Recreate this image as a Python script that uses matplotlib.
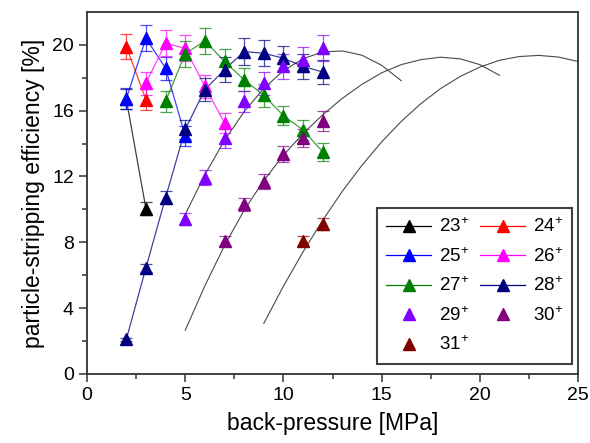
import matplotlib
matplotlib.use('Agg')
import matplotlib.pyplot as plt

plt.rcParams['font.family'] = ['Liberation Sans', 'DejaVu Sans']
plt.rcParams['mathtext.default'] = 'regular'

# measured points: back-pressure [MPa] and efficiency [%] with errors
x23 = [2, 3]
y23 = [16.69, 10.04]
e23 = [0.6, 0.4]

x24 = [2, 3]
y24 = [19.9, 16.67]
e24 = [0.75, 0.65]

x25 = [2, 3, 4, 5]
y25 = [16.73, 20.4, 18.58, 14.46]
e25 = [0.65, 0.8, 0.7, 0.6]

x26 = [3, 4, 5, 6, 7]
y26 = [17.68, 20.1, 19.79, 17.48, 15.26]
e26 = [0.7, 0.8, 0.8, 0.7, 0.6]

x27 = [4, 5, 6, 7, 8, 9, 10, 11, 12]
y27 = [16.57, 19.46, 20.24, 18.99, 17.88, 16.93, 15.7, 14.82, 13.5]
e27 = [0.65, 0.8, 0.8, 0.75, 0.7, 0.7, 0.6, 0.6, 0.55]

x28 = [2, 3, 4, 5, 6, 7, 8, 9, 10, 11, 12]
y28 = [2.1, 6.45, 10.72, 14.86, 17.28, 18.49, 19.59, 19.49, 19.19, 18.69, 18.35]
e28 = [0.1, 0.25, 0.4, 0.6, 0.7, 0.75, 0.8, 0.8, 0.75, 0.75, 0.75]

x29 = [5, 6, 7, 8, 9, 10, 11, 12]
y29 = [9.42, 11.93, 14.31, 16.57, 17.68, 18.69, 19.09, 19.79]
e29 = [0.35, 0.45, 0.55, 0.65, 0.7, 0.75, 0.75, 0.8]

x30 = [7, 8, 9, 10, 11, 12]
y30 = [8.06, 10.32, 11.69, 13.35, 14.35, 15.36]
e30 = [0.3, 0.4, 0.45, 0.5, 0.55, 0.6]

x31 = [11, 12]
y31 = [8.06, 9.11]
e31 = [0.3, 0.35]

# fitted curves
fx29 = [5, 6, 7, 8, 9, 10, 11, 12, 13, 14, 15, 16]
fy29 = [9.69, 12.11, 14.19, 15.94, 17.35, 18.43, 19.16, 19.57, 19.63, 19.37, 18.76, 17.82]

fx30 = [5, 6, 7, 8, 9, 10, 11, 12, 13, 14, 15, 16, 17, 18, 19, 20, 21]
fy30 = [2.65, 5.35, 7.8, 9.95, 11.75, 13.3, 14.6, 15.75, 16.75, 17.6, 18.3, 18.8,
        19.1, 19.25, 19.15, 18.8, 18.15]

fx31 = [9, 10, 11, 12, 13, 14, 15, 16, 17, 18, 19, 20, 21, 22, 23, 24, 25]
fy31 = [3.07, 5.33, 7.42, 9.34, 11.1, 12.68, 14.1, 15.35, 16.43, 17.34, 18.08,
        18.65, 19.06, 19.29, 19.36, 19.26, 18.99]

series = [
    ('23', x23, y23, e23, 'black', True),
    ('24', x24, y24, e24, '#ff0000', True),
    ('25', x25, y25, e25, '#0000ff', True),
    ('26', x26, y26, e26, '#ff00ff', True),
    ('27', x27, y27, e27, '#008000', True),
    ('28', x28, y28, e28, '#000080', True),
    ('29', x29, y29, e29, '#8000ff', False),
    ('30', x30, y30, e30, '#800080', False),
    ('31', x31, y31, e31, '#800000', False),
]

fig = plt.figure(figsize=(5.9, 4.43), dpi=100)
ax = fig.add_axes([0.1475, 0.156, 0.8322, 0.817])

# fit curves
for fx, fy in [(fx29, fy29), (fx30, fy30), (fx31, fy31)]:
    ax.plot(fx, fy, color='#4a4a4a', lw=0.8, zorder=2)

handles = {}
for name, xs, ys, es, col, joined in series:
    ax.errorbar(xs, ys, yerr=es, fmt='none', ecolor=col, elinewidth=0.9,
                capsize=4.5, capthick=0.9, alpha=0.7, zorder=3)
    if joined:
        ax.plot(xs, ys, color=col, lw=0.9, alpha=0.75, zorder=3)
    ax.plot(xs, ys, linestyle='none', marker='^', ms=9, color=col,
            markeredgecolor=col, zorder=4)
    # legend handle: line + marker or marker only
    h, = ax.plot([], [], linestyle='-' if joined else 'none', lw=0.9,
                 marker='^', ms=9, color=col)
    handles[name] = (h, name + '$^{+}$')

order = ['23', '25', '27', '29', '31', '24', '26', '28', '30']
leg = ax.legend([handles[k][0] for k in order], [handles[k][1] for k in order],
                ncol=2, loc='lower right', bbox_to_anchor=(0.988, 0.028),
                borderaxespad=0, fontsize=13.5, fancybox=False, framealpha=1,
                edgecolor='#404040', handlelength=2.4, handletextpad=0.4,
                columnspacing=0.6, labelspacing=0.58, borderpad=0.5)
leg.get_frame().set_linewidth(1.5)

ax.set_xlim(0, 25)
ax.set_ylim(0, 22)
ax.set_xticks([0, 5, 10, 15, 20, 25])
ax.set_xticks([2.5, 7.5, 12.5, 17.5, 22.5], minor=True)
ax.set_yticks([0, 4, 8, 12, 16, 20])
ax.set_yticks([2, 6, 10, 14, 18], minor=True)
ax.tick_params(which='major', direction='out', length=6, width=1.1,
               labelsize=14, color='#333333')
ax.tick_params(which='minor', direction='out', length=3.5, width=1.1,
               color='#333333')
for sp in ax.spines.values():
    sp.set_linewidth(1.3)
    sp.set_color('#333333')

ax.set_xlabel('back-pressure [MPa]', fontsize=16.5, labelpad=6)
ax.set_ylabel('particle-stripping efficiency [%]', fontsize=16.5, labelpad=5)

fig.savefig('out.png', dpi=100)
